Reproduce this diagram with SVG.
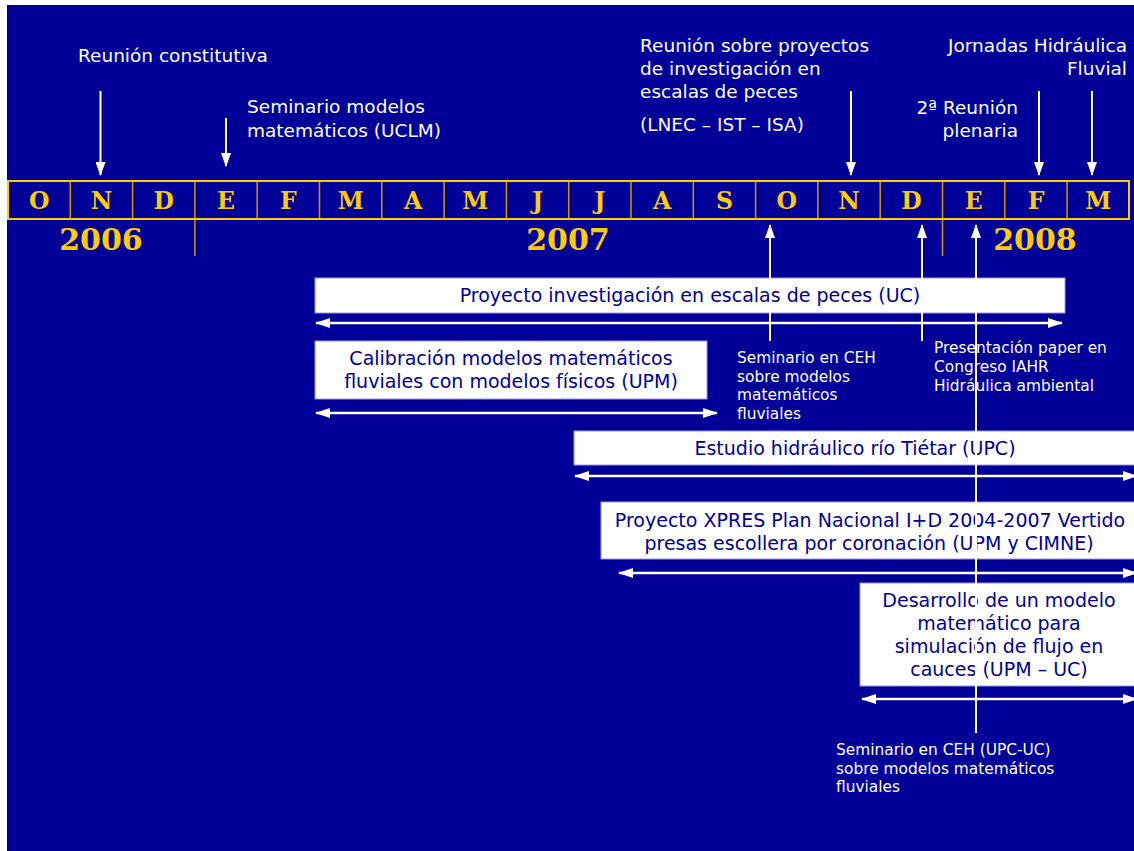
<svg xmlns="http://www.w3.org/2000/svg" width="1134" height="851" viewBox="0 0 1134 851">
<style>
.lbl{font-family:"DejaVu Sans","Verdana",sans-serif;font-size:18.5px;fill:#ffffff}
.sm{font-family:"DejaVu Sans","Verdana",sans-serif;font-size:15.4px;fill:#ffffff}
.bt{font-family:"DejaVu Sans","Verdana",sans-serif;font-size:19px;fill:#000099;text-anchor:middle}
.mo{font-family:"DejaVu Serif",serif;font-weight:bold;font-size:23.5px;fill:#FFCC00;text-anchor:middle}
.yr{font-family:"DejaVu Serif",serif;font-weight:bold;font-size:30px;fill:#FFCC00;text-anchor:middle}
.box{fill:#ffffff;stroke:#9999dd;stroke-width:1}
.ln{stroke:#ffffff;stroke-width:2;fill:none}
.hl{stroke:#ffffff;stroke-width:2.5;fill:none}
.div{stroke:#CC9900;stroke-width:1.5}
</style>
<defs>
<marker id="ah" viewBox="0 0 14 10" refX="13" refY="5" markerWidth="14" markerHeight="10" markerUnits="userSpaceOnUse" orient="auto-start-reverse">
<path d="M0,0 L14,5 L0,10 Z" fill="#ffffff"/>
</marker>
<marker id="ah2" viewBox="0 0 15 10" refX="14" refY="5" markerWidth="15" markerHeight="10" markerUnits="userSpaceOnUse" orient="auto-start-reverse">
<path d="M0,0 L15,5 L0,10 Z" fill="#ffffff"/>
</marker>
</defs>
<rect x="0" y="0" width="1134" height="851" fill="#ffffff"/>
<rect x="7" y="5" width="1127" height="846" fill="#000099"/>

<g id="timeline">
<rect x="8" y="181" width="1121" height="38" fill="none" stroke="#FFCC00" stroke-width="2"/>
<g class="div">
<line x1="70.3" y1="182" x2="70.3" y2="218"/>
<line x1="132.6" y1="182" x2="132.6" y2="218"/>
<line x1="194.9" y1="182" x2="194.9" y2="218"/>
<line x1="257.2" y1="182" x2="257.2" y2="218"/>
<line x1="319.5" y1="182" x2="319.5" y2="218"/>
<line x1="381.8" y1="182" x2="381.8" y2="218"/>
<line x1="444.1" y1="182" x2="444.1" y2="218"/>
<line x1="506.4" y1="182" x2="506.4" y2="218"/>
<line x1="568.7" y1="182" x2="568.7" y2="218"/>
<line x1="631" y1="182" x2="631" y2="218"/>
<line x1="693.3" y1="182" x2="693.3" y2="218"/>
<line x1="755.6" y1="182" x2="755.6" y2="218"/>
<line x1="817.9" y1="182" x2="817.9" y2="218"/>
<line x1="880.2" y1="182" x2="880.2" y2="218"/>
<line x1="942.5" y1="182" x2="942.5" y2="218"/>
<line x1="1004.8" y1="182" x2="1004.8" y2="218"/>
<line x1="1067.1" y1="182" x2="1067.1" y2="218"/>
<line x1="194.9" y1="220" x2="194.9" y2="256"/>
<line x1="942.5" y1="220" x2="942.5" y2="256"/>
</g>
<text class="mo" x="39.2" y="209">O</text>
<text class="mo" x="101.5" y="209">N</text>
<text class="mo" x="163.8" y="209">D</text>
<text class="mo" x="226" y="209">E</text>
<text class="mo" x="288.4" y="209">F</text>
<text class="mo" x="350.7" y="209">M</text>
<text class="mo" x="413" y="209">A</text>
<text class="mo" x="475.3" y="209">M</text>
<text class="mo" x="537.6" y="209">J</text>
<text class="mo" x="599.9" y="209">J</text>
<text class="mo" x="662.2" y="209">A</text>
<text class="mo" x="724.5" y="209">S</text>
<text class="mo" x="786.8" y="209">O</text>
<text class="mo" x="849.1" y="209">N</text>
<text class="mo" x="911.4" y="209">D</text>
<text class="mo" x="973.7" y="209">E</text>
<text class="mo" x="1036" y="209">F</text>
<text class="mo" x="1098.3" y="209">M</text>
<text class="yr" x="101" y="250">2006</text>
<text class="yr" x="568" y="250">2007</text>
<text class="yr" x="1035" y="250">2008</text>
</g>

<g id="ev-reunion-constitutiva">
<text class="lbl" x="78" y="62">Reunión constitutiva</text>
</g>
<g id="ev-seminario-uclm">
<text class="lbl" x="247" y="113">Seminario modelos</text>
<text class="lbl" x="247" y="137">matemáticos (UCLM)</text>
</g>
<g id="ev-reunion-proyectos">
<text class="lbl" x="640" y="52">Reunión sobre proyectos</text>
<text class="lbl" x="640" y="75">de investigación en</text>
<text class="lbl" x="640" y="98">escalas de peces</text>
<text class="lbl" x="640" y="131">(LNEC – IST – ISA)</text>
</g>
<g id="ev-jornadas">
<text class="lbl" x="1127" y="52" text-anchor="end">Jornadas Hidráulica</text>
<text class="lbl" x="1127" y="75" text-anchor="end">Fluvial</text>
</g>
<g id="ev-plenaria">
<text class="lbl" x="1018" y="114" text-anchor="end">2ª Reunión</text>
<text class="lbl" x="1018" y="137" text-anchor="end">plenaria</text>
</g>

<g id="p-escalas">
<rect class="box" x="315" y="278" width="750" height="35"/>
<text class="bt" x="690" y="302">Proyecto investigación en escalas de peces (UC)</text>
</g>
<g id="p-calibracion">
<rect class="box" x="315" y="341" width="392" height="58"/>
<text class="bt" x="511" y="365">Calibración modelos matemáticos</text>
<text class="bt" x="511" y="388">fluviales con modelos físicos (UPM)</text>
</g>
<g id="p-tietar">
<rect class="box" x="574" y="431" width="566" height="34"/>
<text class="bt" x="855" y="455">Estudio hidráulico río Tiétar (UPC)</text>
</g>
<g id="p-xpres">
<rect class="box" x="601" y="502" width="539" height="57"/>
<text class="bt" x="870" y="527">Proyecto XPRES Plan Nacional I+D 2004-2007 Vertido</text>
<text class="bt" x="869" y="550">presas escollera por coronación (UPM y CIMNE)</text>
</g>
<g id="p-desarrollo">
<rect class="box" x="860" y="583" width="280" height="103"/>
<text class="bt" x="999" y="607">Desarrollo de un modelo</text>
<text class="bt" x="999" y="630">matemático para</text>
<text class="bt" x="999" y="653">simulación de flujo en</text>
<text class="bt" x="999" y="676">cauces (UPM – UC)</text>
</g>

<g id="ev-seminario-ceh">
<text class="sm" x="737" y="363">Seminario en CEH</text>
<text class="sm" x="737" y="382">sobre modelos</text>
<text class="sm" x="737" y="400">matemáticos</text>
<text class="sm" x="737" y="419">fluviales</text>
</g>
<g id="ev-paper">
<text class="sm" x="934" y="353">Presentación paper en</text>
<text class="sm" x="934" y="372">Congreso IAHR</text>
<text class="sm" x="934" y="391">Hidráulica ambiental</text>
</g>
<g id="ev-seminario-ceh2">
<text class="sm" x="836" y="755">Seminario en CEH (UPC-UC)</text>
<text class="sm" x="836" y="774">sobre modelos matemáticos</text>
<text class="sm" x="836" y="792">fluviales</text>
</g>

<g id="connectors">
<line class="ln" x1="100.5" y1="91" x2="100.5" y2="175" marker-end="url(#ah)"/>
<line class="ln" x1="226" y1="118" x2="226" y2="166" marker-end="url(#ah)"/>
<line class="ln" x1="851" y1="91" x2="851" y2="175" marker-end="url(#ah)"/>
<line class="ln" x1="1039" y1="91" x2="1039" y2="175" marker-end="url(#ah)"/>
<line class="ln" x1="1092" y1="91" x2="1092" y2="175" marker-end="url(#ah)"/>
<line class="ln" x1="770" y1="341" x2="770" y2="225" marker-end="url(#ah)"/>
<line class="ln" x1="922" y1="341" x2="922" y2="225" marker-end="url(#ah)"/>
<line class="ln" x1="976" y1="733" x2="976" y2="225" marker-end="url(#ah)"/>
<line class="hl" x1="316" y1="323" x2="1062" y2="323" marker-start="url(#ah2)" marker-end="url(#ah2)"/>
<line class="hl" x1="316" y1="413" x2="717" y2="413" marker-start="url(#ah2)" marker-end="url(#ah2)"/>
<line class="hl" x1="575" y1="476" x2="1137" y2="476" marker-start="url(#ah2)" marker-end="url(#ah2)"/>
<line class="hl" x1="619" y1="573" x2="1137" y2="573" marker-start="url(#ah2)" marker-end="url(#ah2)"/>
<line class="hl" x1="862" y1="699" x2="1137" y2="699" marker-start="url(#ah2)" marker-end="url(#ah2)"/>
</g>
</svg>
